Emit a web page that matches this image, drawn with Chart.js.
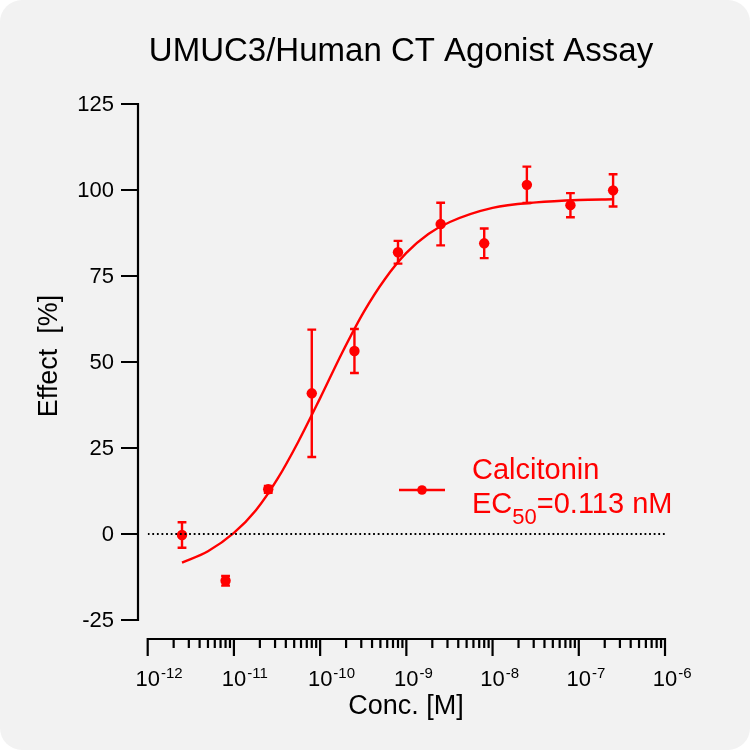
<!DOCTYPE html>
<html>
<head>
<meta charset="utf-8">
<title>UMUC3/Human CT Agonist Assay</title>
<script src="https://cdn.jsdelivr.net/npm/chart.js@4.4.1/dist/chart.umd.min.js"></script>
<style>
    html, body { margin: 0; padding: 0; background: #ffffff; }
    canvas { display: block; }
</style>
</head>
<body>
<canvas id="myChart" width="750" height="750"></canvas>
<script>
// measured points (mean +/- error)
const conc = [2.5e-12, 8e-12, 2.5e-11, 8e-11, 2.5e-10, 8e-10, 2.5e-9, 8e-9, 2.5e-8, 8e-8, 2.5e-7];
const effect = [-0.3, -13.6, 13.0, 40.9, 53.2, 81.9, 90.1, 84.5, 101.5, 95.6, 99.9];
const effectErr = [3.7, 1.4, 1.0, 18.5, 6.4, 3.3, 6.2, 4.3, 5.3, 3.5, 4.7];

// fitted curve
const curveX = [2.5e-12, 5e-12, 1e-11, 1.8e-11, 3.2e-11, 5.6e-11, 1e-10, 1.8e-10, 3.2e-10, 5.6e-10, 1e-9, 1.8e-9, 3.2e-9, 1e-8, 3.2e-8, 1e-7, 2.5e-7];
const curveY = [-8.3, -5.0, 0.3, 6.9, 16.0, 26.9, 39.5, 52.7, 64.5, 74.0, 81.7, 87.2, 90.7, 94.8, 96.4, 97.1, 97.3];

// axes
const yTicks = [-25, 0, 25, 50, 75, 100, 125];
const xTickExp = [-12, -11, -10, -9, -8, -7, -6];

const titleText = 'UMUC3/Human CT Agonist Assay';
const xTitle = 'Conc. [M]';
const yTitle = 'Effect  [%]';
const seriesName = 'Calcitonin';
const ec50Text = '0.113 nM';

const RED = '#ff0000';
const FONT = '"Liberation Sans", Arial, sans-serif';

function pts(xs, ys) {
    return xs.map(function (x, i) { return { x: x, y: ys[i] }; });
}

const framePlugin = {
    id: 'frame',
    beforeDraw: function (chart) {
        var ctx = chart.ctx;
        ctx.save();
        ctx.fillStyle = '#ffffff';
        ctx.fillRect(0, 0, chart.width, chart.height);
        ctx.fillStyle = '#f2f2f2';
        ctx.beginPath();
        ctx.roundRect(0, 0, chart.width, chart.height, 22);
        ctx.fill();
        ctx.restore();
    },
    beforeDatasetsDraw: function (chart) {
        // error bars
        var ctx = chart.ctx;
        var xs = chart.scales.x, ys = chart.scales.y;
        ctx.save();
        ctx.strokeStyle = RED;
        ctx.lineWidth = 2.4;
        conc.forEach(function (c, i) {
            var px = xs.getPixelForValue(c);
            var top = ys.getPixelForValue(effect[i] + effectErr[i]);
            var bot = ys.getPixelForValue(effect[i] - effectErr[i]);
            ctx.beginPath();
            ctx.moveTo(px, top); ctx.lineTo(px, bot);
            ctx.moveTo(px - 4.4, top); ctx.lineTo(px + 4.4, top);
            ctx.moveTo(px - 4.4, bot); ctx.lineTo(px + 4.4, bot);
            ctx.stroke();
        });
        ctx.restore();
    },
    afterDraw: function (chart) {
        var ctx = chart.ctx;
        var xs = chart.scales.x, ys = chart.scales.y;
        ctx.save();
        ctx.strokeStyle = '#000';
        ctx.fillStyle = '#000';
        ctx.lineWidth = 2.2;

        // y axis (offset to the left of the plot)
        var yAxisX = 138;
        var yTop = ys.getPixelForValue(yTicks[yTicks.length - 1]);
        var yBot = ys.getPixelForValue(yTicks[0]);
        ctx.beginPath();
        ctx.moveTo(yAxisX, yTop - 1.1); ctx.lineTo(yAxisX, yBot + 1.1);
        yTicks.forEach(function (v) {
            var py = ys.getPixelForValue(v);
            ctx.moveTo(121, py); ctx.lineTo(yAxisX, py);
        });
        ctx.stroke();
        ctx.font = '22px ' + FONT;
        ctx.textAlign = 'right';
        ctx.textBaseline = 'middle';
        yTicks.forEach(function (v) {
            ctx.fillText(String(v), 114, ys.getPixelForValue(v) + 1);
        });

        // x axis (offset below the plot), log ticks
        var xAxisY = 639;
        var xLeft = xs.getPixelForValue(Math.pow(10, xTickExp[0]));
        var xRight = xs.getPixelForValue(Math.pow(10, xTickExp[xTickExp.length - 1]));
        ctx.beginPath();
        ctx.moveTo(xLeft - 1.1, xAxisY); ctx.lineTo(xRight + 1.1, xAxisY);
        xTickExp.forEach(function (e, i) {
            var px = xs.getPixelForValue(Math.pow(10, e));
            ctx.moveTo(px, xAxisY); ctx.lineTo(px, 656);
            if (i < xTickExp.length - 1) {
                for (var m = 2; m <= 9; m++) {
                    var mx = xs.getPixelForValue(m * Math.pow(10, e));
                    ctx.moveTo(mx, xAxisY); ctx.lineTo(mx, 648);
                }
            }
        });
        ctx.stroke();
        ctx.textBaseline = 'alphabetic';
        xTickExp.forEach(function (e) {
            var px = xs.getPixelForValue(Math.pow(10, e));
            ctx.font = '22px ' + FONT;
            ctx.textAlign = 'center';
            ctx.fillText('10', px, 686);
            var w = ctx.measureText('10').width;
            ctx.font = '15px ' + FONT;
            ctx.textAlign = 'left';
            ctx.fillText(String(e), px + w / 2 + 1, 678);
        });

        // titles
        ctx.font = '33px ' + FONT;
        ctx.textAlign = 'center';
        ctx.fillText(titleText, 401, 61);
        ctx.font = '27px ' + FONT;
        ctx.fillText(xTitle, 406, 714);
        ctx.save();
        ctx.translate(57, 356);
        ctx.rotate(-Math.PI / 2);
        ctx.fillText(yTitle, 0, 0);
        ctx.restore();

        // legend
        ctx.strokeStyle = RED;
        ctx.fillStyle = RED;
        ctx.lineWidth = 2.4;
        ctx.beginPath();
        ctx.moveTo(399, 490); ctx.lineTo(445, 490);
        ctx.stroke();
        ctx.beginPath();
        ctx.arc(422, 490, 4.8, 0, Math.PI * 2);
        ctx.fill();
        ctx.textAlign = 'left';
        ctx.font = '29px ' + FONT;
        ctx.fillText(seriesName, 472, 479);
        var lx = 472;
        ctx.fillText('EC', lx, 513);
        lx += ctx.measureText('EC').width;
        ctx.font = '22px ' + FONT;
        ctx.fillText('50', lx, 524);
        lx += ctx.measureText('50').width;
        ctx.font = '29px ' + FONT;
        ctx.fillText('=' + ec50Text, lx, 513);
        ctx.restore();
    }
};

const ctx = document.getElementById('myChart');

new Chart(ctx, {
    type: 'scatter',
    data: {
        datasets: [{
            // zero reference line
            data: pts([1e-12, 1e-6], [0, 0]),
            showLine: true,
            borderColor: '#000',
            borderWidth: 1.8,
            borderDash: [1.8, 2.8],
            pointRadius: 0
        }, {
            label: 'fit',
            data: pts(curveX, curveY),
            showLine: true,
            borderColor: RED,
            borderWidth: 2.4,
            cubicInterpolationMode: 'monotone',
            pointRadius: 0
        }, {
            label: seriesName,
            data: pts(conc, effect),
            backgroundColor: RED,
            borderWidth: 0,
            pointRadius: 5.2
        }]
    },
    options: {
        responsive: false,
        animation: false,
        layout: {
            padding: { left: 147.7, right: 85, top: 104, bottom: 130 }
        },
        plugins: {
            legend: { display: false },
            tooltip: { enabled: false }
        },
        scales: {
            x: { type: 'logarithmic', min: 1e-12, max: 1e-6, display: false },
            y: { type: 'linear', min: -25, max: 125, display: false }
        }
    },
    plugins: [framePlugin]
});
</script>
</body>
</html>
